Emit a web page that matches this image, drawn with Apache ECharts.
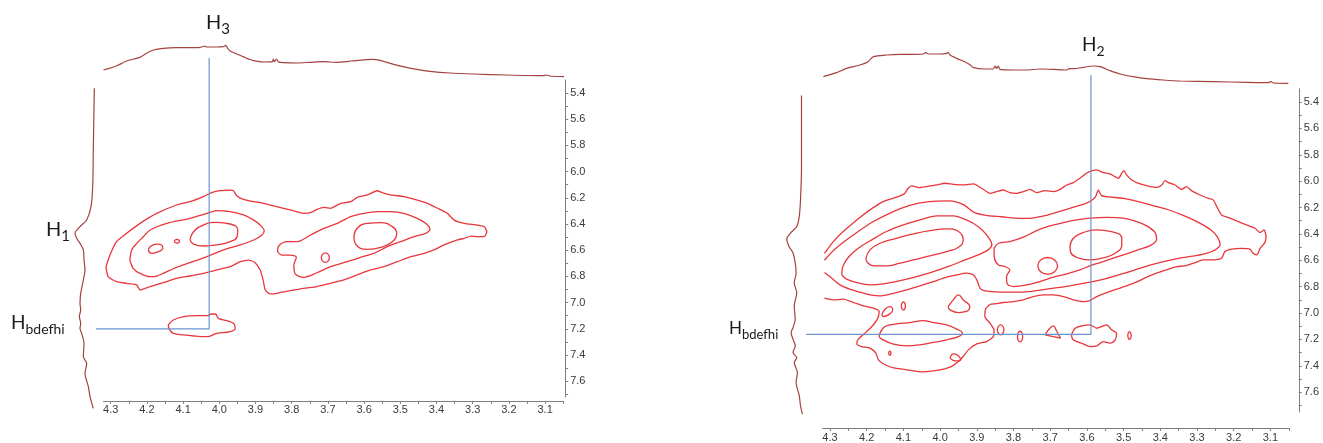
<!DOCTYPE html>
<html>
<head>
<meta charset="utf-8">
<script src="https://cdn.jsdelivr.net/npm/echarts/dist/echarts.min.js"></script>
<style>
  html, body { margin: 0; padding: 0; background: #fff; }
  #chart { width: 1323px; height: 443px; }
</style>
</head>
<body>
<div id="chart"></div>
<script>
// ---------- spectra data (chemical shifts in ppm, intensities in arbitrary units) ----------

// Left spectrum: F2 projection [ppm, intensity]
const leftTopTrace = [[4.320,3.0],[4.284,4.2],[4.256,5.7],[4.219,6.8],[4.201,8.0],[4.182,9.0],[4.155,9.5],[4.118,9.7],[4.081,9.7],[4.053,9.8],[4.040,10.2],[4.035,9.9],[4.007,9.9],[3.989,10.0],[3.982,10.4],[3.978,9.7],[3.971,8.8],[3.952,7.8],[3.934,7.0],[3.924,6.5],[3.917,6.2],[3.906,5.8],[3.878,5.4],[3.853,5.5],[3.851,6.3],[3.848,5.5],[3.842,6.3],[3.837,5.4],[3.823,5.2],[3.786,5.1],[3.749,5.3],[3.713,5.5],[3.676,5.3],[3.648,5.5],[3.639,5.7],[3.621,5.8],[3.593,6.1],[3.575,6.2],[3.556,5.9],[3.528,5.0],[3.492,4.0],[3.455,3.2],[3.418,2.6],[3.363,2.1],[3.298,1.8],[3.206,1.5],[3.105,1.3],[3.096,1.5],[3.087,1.2],[3.045,1.0]];
// Left spectrum: F1 projection [intensity, ppm]
const leftSideTrace = [[1.7,5.364],[2.0,5.810],[2.2,6.115],[2.7,6.268],[4.0,6.369],[6.0,6.420],[7.5,6.471],[7.0,6.509],[6.0,6.548],[5.0,6.598],[4.8,6.675],[4.5,6.751],[5.0,6.828],[5.8,6.929],[6.0,7.006],[5.8,7.056],[6.2,7.107],[5.8,7.158],[6.0,7.196],[5.5,7.235],[4.8,7.311],[5.0,7.413],[4.0,7.464],[4.5,7.540],[3.5,7.642],[3.0,7.718],[2.0,7.807]];

// Left spectrum: contour lines [F2 ppm, F1 ppm]
const leftOuter = [[4.313,6.726],[4.302,6.637],[4.284,6.535],[4.256,6.471],[4.219,6.395],[4.173,6.319],[4.118,6.255],[4.081,6.230],[4.044,6.191],[4.021,6.161],[3.998,6.146],[3.970,6.141],[3.961,6.146],[3.951,6.186],[3.933,6.212],[3.905,6.230],[3.877,6.242],[3.841,6.268],[3.804,6.293],[3.767,6.319],[3.748,6.314],[3.730,6.288],[3.711,6.273],[3.693,6.280],[3.665,6.242],[3.637,6.230],[3.619,6.196],[3.591,6.178],[3.564,6.146],[3.550,6.161],[3.527,6.178],[3.490,6.191],[3.453,6.217],[3.425,6.242],[3.397,6.280],[3.370,6.319],[3.351,6.370],[3.323,6.395],[3.287,6.408],[3.268,6.421],[3.261,6.459],[3.268,6.497],[3.287,6.497],[3.305,6.492],[3.323,6.509],[3.342,6.522],[3.379,6.560],[3.407,6.598],[3.434,6.624],[3.471,6.649],[3.508,6.688],[3.545,6.726],[3.582,6.751],[3.619,6.789],[3.656,6.827],[3.693,6.853],[3.730,6.878],[3.767,6.891],[3.804,6.909],[3.841,6.929],[3.859,6.934],[3.873,6.904],[3.879,6.827],[3.887,6.751],[3.901,6.695],[3.919,6.675],[3.942,6.688],[3.970,6.726],[4.007,6.751],[4.044,6.777],[4.081,6.797],[4.118,6.815],[4.155,6.848],[4.191,6.878],[4.219,6.904],[4.228,6.866],[4.256,6.853],[4.284,6.840],[4.307,6.802]];
const leftMidA = [[4.247,6.675],[4.242,6.598],[4.228,6.548],[4.210,6.497],[4.191,6.446],[4.145,6.395],[4.081,6.357],[4.034,6.319],[4.007,6.298],[3.970,6.306],[3.933,6.331],[3.905,6.370],[3.887,6.408],[3.876,6.451],[3.882,6.484],[3.905,6.522],[3.942,6.560],[3.988,6.598],[4.034,6.649],[4.081,6.695],[4.118,6.731],[4.155,6.777],[4.173,6.797],[4.191,6.802],[4.219,6.777],[4.238,6.738]];
const leftMidB = [[3.839,6.611],[3.836,6.568],[3.813,6.535],[3.785,6.535],[3.748,6.484],[3.711,6.433],[3.674,6.395],[3.637,6.344],[3.600,6.319],[3.564,6.306],[3.527,6.306],[3.490,6.319],[3.453,6.357],[3.430,6.395],[3.418,6.441],[3.430,6.471],[3.462,6.497],[3.499,6.535],[3.536,6.573],[3.573,6.624],[3.610,6.654],[3.647,6.688],[3.693,6.726],[3.730,6.772],[3.767,6.807],[3.790,6.782],[3.794,6.713],[3.787,6.654],[3.804,6.637],[3.827,6.637]];
const leftInnerA = [[4.081,6.522],[4.071,6.459],[4.044,6.408],[4.007,6.387],[3.970,6.400],[3.949,6.446],[3.951,6.497],[3.970,6.535],[4.007,6.560],[4.044,6.568],[4.071,6.553]];
const leftInnerB = [[3.628,6.497],[3.619,6.433],[3.591,6.395],[3.554,6.390],[3.522,6.420],[3.510,6.471],[3.522,6.535],[3.554,6.578],[3.591,6.593],[3.619,6.568]];
const leftSpotA = [[4.196,6.598],[4.191,6.573],[4.173,6.553],[4.159,6.560],[4.156,6.586],[4.168,6.611],[4.187,6.624]];
const leftSpotB = [[4.124,6.532],[4.122,6.522],[4.117,6.517],[4.112,6.522],[4.110,6.532],[4.112,6.542],[4.117,6.547],[4.122,6.542]];
const leftSpotC = [[3.718,6.657],[3.715,6.632],[3.707,6.621],[3.699,6.632],[3.696,6.657],[3.699,6.682],[3.707,6.693],[3.715,6.682]];
const leftLow = [[4.141,7.171],[4.127,7.133],[4.099,7.107],[4.062,7.100],[4.034,7.100],[4.021,7.087],[4.011,7.087],[4.002,7.120],[3.979,7.138],[3.961,7.158],[3.956,7.196],[3.970,7.222],[4.007,7.235],[4.034,7.260],[4.071,7.255],[4.099,7.247],[4.127,7.235],[4.138,7.204]];
// H3 / Hbdefhi cross-peak guide
const leftCross = [[4.341,7.20],[4.028,7.20],[4.028,5.133]];

// Right spectrum: F2 projection [ppm, intensity]
const rightTopTrace = [[4.318,10.0],[4.282,11.2],[4.255,12.5],[4.218,13.5],[4.196,14.5],[4.182,16.0],[4.146,16.5],[4.109,16.7],[4.073,16.7],[4.046,16.8],[4.039,17.2],[4.032,16.8],[4.000,16.8],[3.982,17.0],[3.978,17.3],[3.973,16.5],[3.955,15.5],[3.928,14.2],[3.919,13.6],[3.910,12.8],[3.882,12.3],[3.855,12.3],[3.850,13.2],[3.846,12.5],[3.841,13.2],[3.837,12.2],[3.800,12.0],[3.764,12.0],[3.728,12.3],[3.691,12.2],[3.655,12.0],[3.648,12.4],[3.637,12.4],[3.610,12.8],[3.582,13.2],[3.564,13.0],[3.537,11.8],[3.510,10.8],[3.474,10.0],[3.437,9.4],[3.392,9.0],[3.346,8.7],[3.255,8.5],[3.165,8.3],[3.106,8.2],[3.099,8.5],[3.092,8.1],[3.051,8.0]];
// Right spectrum: F1 projection [intensity, ppm]
const rightSideTrace = [[0.6,5.350],[0.6,5.890],[1.0,6.142],[1.5,6.267],[2.5,6.343],[5.0,6.393],[6.5,6.438],[5.6,6.494],[4.0,6.544],[3.1,6.620],[2.75,6.695],[3.5,6.770],[2.5,6.846],[3.5,6.946],[3.1,7.047],[4.0,7.110],[4.75,7.148],[4.0,7.198],[3.1,7.248],[4.0,7.298],[2.5,7.336],[3.5,7.374],[2.25,7.449],[2.75,7.525],[1.5,7.625],[1.0,7.701],[0.25,7.764]];

// Right spectrum: contour lines [F2 ppm, F1 ppm]
// lowest level: open at the 4.32 ppm edge, wraps both cross peaks and the 7.2 ppm region
const rightLevel0 = [[4.315,6.547],[4.291,6.458],[4.264,6.382],[4.227,6.294],[4.191,6.218],[4.164,6.168],[4.137,6.137],[4.109,6.112],[4.096,6.092],[4.087,6.054],[4.077,6.036],[4.059,6.049],[4.037,6.041],[4.009,6.029],[3.987,6.016],[3.964,6.024],[3.937,6.029],[3.909,6.021],[3.887,6.054],[3.864,6.092],[3.846,6.079],[3.828,6.067],[3.810,6.087],[3.791,6.092],[3.773,6.079],[3.755,6.062],[3.737,6.087],[3.714,6.072],[3.691,6.079],[3.673,6.062],[3.655,6.029],[3.637,6.011],[3.619,5.978],[3.601,5.940],[3.587,5.923],[3.573,5.915],[3.555,5.935],[3.537,5.945],[3.514,5.978],[3.505,5.940],[3.499,5.920],[3.492,5.953],[3.478,5.991],[3.455,6.021],[3.428,6.041],[3.410,6.047],[3.396,6.029],[3.387,5.996],[3.378,6.011],[3.360,6.029],[3.342,6.062],[3.328,6.041],[3.315,6.072],[3.292,6.105],[3.269,6.130],[3.256,6.142],[3.246,6.193],[3.233,6.256],[3.210,6.281],[3.187,6.307],[3.165,6.332],[3.142,6.357],[3.128,6.390],[3.117,6.370],[3.112,6.420],[3.115,6.466],[3.128,6.509],[3.137,6.559],[3.147,6.547],[3.156,6.516],[3.178,6.509],[3.206,6.516],[3.224,6.534],[3.233,6.584],[3.256,6.597],[3.283,6.597],[3.305,6.617],[3.333,6.642],[3.355,6.648],[3.383,6.673],[3.410,6.698],[3.437,6.728],[3.464,6.764],[3.492,6.794],[3.519,6.819],[3.546,6.845],[3.573,6.875],[3.592,6.905],[3.610,6.913],[3.637,6.900],[3.664,6.875],[3.691,6.862],[3.719,6.862],[3.746,6.875],[3.773,6.900],[3.800,6.913],[3.828,6.920],[3.850,6.930],[3.864,6.935],[3.876,6.970],[3.878,7.026],[3.864,7.077],[3.853,7.127],[3.855,7.178],[3.873,7.216],[3.900,7.233],[3.923,7.279],[3.937,7.329],[3.950,7.367],[3.973,7.410],[4.009,7.435],[4.046,7.446],[4.091,7.430],[4.123,7.418],[4.150,7.392],[4.168,7.355],[4.175,7.304],[4.191,7.266],[4.214,7.254],[4.227,7.233],[4.223,7.198],[4.205,7.153],[4.186,7.102],[4.171,7.046],[4.166,6.988],[4.182,6.963],[4.209,6.946],[4.236,6.920],[4.264,6.895],[4.291,6.900],[4.315,6.887]];
// second level: open at the edge, encloses both cross peaks
const rightLevel1 = [[4.315,6.600],[4.292,6.530],[4.262,6.460],[4.225,6.385],[4.184,6.310],[4.135,6.240],[4.085,6.185],[4.030,6.155],[3.975,6.150],[3.935,6.180],[3.909,6.235],[3.870,6.262],[3.832,6.270],[3.795,6.280],[3.755,6.282],[3.720,6.265],[3.689,6.242],[3.645,6.205],[3.601,6.167],[3.582,6.135],[3.575,6.110],[3.569,6.067],[3.560,6.110],[3.540,6.120],[3.500,6.130],[3.460,6.155],[3.420,6.185],[3.380,6.215],[3.336,6.262],[3.295,6.315],[3.262,6.370],[3.245,6.420],[3.237,6.480],[3.250,6.520],[3.275,6.548],[3.303,6.565],[3.350,6.585],[3.400,6.615],[3.450,6.655],[3.500,6.700],[3.550,6.740],[3.600,6.770],[3.650,6.795],[3.700,6.815],[3.750,6.835],[3.800,6.842],[3.850,6.840],[3.880,6.830],[3.891,6.812],[3.899,6.754],[3.909,6.711],[3.928,6.698],[3.955,6.711],[3.982,6.728],[4.018,6.761],[4.055,6.794],[4.091,6.824],[4.127,6.850],[4.164,6.870],[4.191,6.862],[4.218,6.842],[4.246,6.819],[4.273,6.786],[4.295,6.736],[4.315,6.693]];
const rightMidA = [[4.268,6.711],[4.265,6.648],[4.250,6.577],[4.223,6.509],[4.186,6.445],[4.146,6.382],[4.100,6.332],[4.055,6.294],[4.009,6.264],[3.964,6.264],[3.928,6.294],[3.896,6.345],[3.873,6.408],[3.859,6.483],[3.869,6.521],[3.896,6.559],[3.932,6.597],[3.973,6.642],[4.018,6.685],[4.064,6.723],[4.109,6.754],[4.155,6.779],[4.191,6.786],[4.227,6.769],[4.255,6.743]];
const rightMidB = [[3.853,6.509],[3.841,6.471],[3.810,6.458],[3.773,6.425],[3.737,6.375],[3.701,6.339],[3.664,6.314],[3.628,6.294],[3.592,6.281],[3.546,6.274],[3.501,6.281],[3.464,6.307],[3.437,6.339],[3.414,6.390],[3.410,6.440],[3.424,6.483],[3.455,6.516],[3.492,6.552],[3.528,6.584],[3.564,6.617],[3.592,6.642],[3.619,6.673],[3.655,6.703],[3.691,6.728],[3.728,6.761],[3.764,6.786],[3.800,6.799],[3.817,6.779],[3.819,6.723],[3.810,6.673],[3.823,6.648],[3.841,6.635],[3.852,6.584]];
const rightInnerA = [[4.202,6.584],[4.191,6.521],[4.164,6.471],[4.118,6.433],[4.073,6.400],[4.028,6.375],[3.982,6.362],[3.950,6.382],[3.937,6.445],[3.950,6.501],[3.982,6.534],[4.028,6.567],[4.073,6.597],[4.109,6.622],[4.146,6.642],[4.177,6.642],[4.198,6.617]];
const rightInnerB = [[3.646,6.496],[3.637,6.433],[3.610,6.390],[3.573,6.370],[3.533,6.382],[3.505,6.433],[3.505,6.483],[3.523,6.546],[3.560,6.584],[3.596,6.597],[3.628,6.577],[3.644,6.541]];
const rightSpotA = [[3.734,6.642],[3.726,6.598],[3.707,6.579],[3.688,6.598],[3.680,6.642],[3.688,6.686],[3.707,6.705],[3.726,6.686]];
const rightLowInner = [[4.164,7.153],[4.150,7.102],[4.118,7.082],[4.082,7.072],[4.046,7.057],[4.018,7.072],[3.982,7.089],[3.950,7.127],[3.939,7.153],[3.950,7.178],[3.982,7.203],[4.018,7.223],[4.055,7.241],[4.091,7.249],[4.127,7.236],[4.155,7.203],[4.166,7.178]];
const rightSpotB = [[4.159,7.014],[4.150,6.971],[4.137,6.951],[4.129,6.976],[4.141,7.014],[4.155,7.026]];
const rightSpotC = [[4.1055,6.946],[4.104,6.925],[4.100,6.916],[4.096,6.925],[4.0945,6.946],[4.096,6.967],[4.100,6.976],[4.104,6.967]];
const rightSpotD = [[3.978,6.951],[3.964,6.900],[3.950,6.862],[3.937,6.900],[3.919,6.951],[3.928,6.988],[3.950,6.996],[3.973,6.976]];
const rightSpotE = [[4.140,7.304],[4.139,7.293],[4.137,7.289],[4.135,7.293],[4.134,7.304],[4.135,7.315],[4.137,7.319],[4.139,7.315]];
const rightSpotF = [[3.973,7.342],[3.964,7.309],[3.950,7.324],[3.944,7.355],[3.959,7.362]];
const rightSpotG = [[3.844,7.127],[3.841,7.100],[3.835,7.089],[3.829,7.100],[3.826,7.127],[3.829,7.154],[3.835,7.165],[3.841,7.154]];
const rightSpotH = [[3.789,7.178],[3.787,7.150],[3.782,7.138],[3.777,7.150],[3.775,7.178],[3.777,7.206],[3.782,7.218],[3.787,7.206]];
const rightSpotI = [[3.714,7.165],[3.701,7.115],[3.691,7.097],[3.682,7.140],[3.672,7.190],[3.691,7.178]];
const rightSpotJ = [[3.642,7.165],[3.632,7.115],[3.614,7.097],[3.592,7.089],[3.573,7.115],[3.560,7.102],[3.546,7.089],[3.533,7.127],[3.519,7.153],[3.523,7.203],[3.537,7.228],[3.555,7.216],[3.573,7.249],[3.592,7.254],[3.610,7.233],[3.628,7.216],[3.639,7.198]];
const rightSpotK = [[3.4885,7.170],[3.487,7.149],[3.484,7.140],[3.481,7.149],[3.4795,7.170],[3.481,7.191],[3.484,7.200],[3.487,7.191]];
// H2 / Hbdefhi cross-peak guide
const rightCross = [[4.365,7.16],[3.589,7.16],[3.589,5.195]];

// axis ranges and tick steps (ppm)
const F2_MIN = 3.05, F2_MAX = 4.32, F2_STEP = 0.05;
const F1_MIN = 5.3, F1_STEP = 0.1;
// wider frame used for the guide lines, which run out to the projections
const GUIDE_F2_MAX = 4.40, GUIDE_F1_MIN = 5.0;

// ---------- layout ----------
// pixel anchors: position of 4.3 ppm (F2) and 5.4 ppm (F1), pixels per ppm
const panels = [
  { x0: 110.7, xs: 362, y0: 93, ys: 131, f1Max: 7.72, xOff: 4, yOff: 2,
    top: { top: 0, height: 80 }, side: { left: 66.7, width: 33.3 },
    topTrace: leftTopTrace, sideTrace: leftSideTrace, cross: leftCross,
    contours: [
      [leftOuter, true, 0.2], [leftMidA, true, 0.3], [leftMidB, true, 0.3],
      [leftInnerA, true, 0.5], [leftInnerB, true, 0.5], [leftSpotA, true, 0.5],
      [leftSpotB, true, 0.5], [leftSpotC, true, 0.5], [leftLow, true, 0.4]
    ] },
  { x0: 830, xs: 367, y0: 102, ys: 132, f1Max: 7.75, xOff: 16, yOff: 10,
    top: { top: 30, height: 80 }, side: { left: 778, width: 25 },
    topTrace: rightTopTrace, sideTrace: rightSideTrace, cross: rightCross,
    contours: [
      [rightLevel0, false, 0.2], [rightLevel1, false, 0.25], [rightMidA, true, 0.3], [rightMidB, true, 0.3],
      [rightInnerA, true, 0.5], [rightInnerB, true, 0.5], [rightSpotA, true, 0.5],
      [rightLowInner, true, 0.4],
      [rightSpotB, true, 0.5], [rightSpotC, true, 0.5], [rightSpotD, true, 0.5],
      [rightSpotE, true, 0.5], [rightSpotF, true, 0.5], [rightSpotG, true, 0.5],
      [rightSpotH, true, 0.5], [rightSpotI, true, 0.4], [rightSpotJ, true, 0.3],
      [rightSpotK, true, 0.5]
    ] }
];

const CONTOUR = '#e8363a', TRACE = '#a3423e', GUIDE = '#6a97cf', AXIS = '#808080', TEXT = '#3a3a3a';
const tickFont = 'Liberation Sans, Arial, sans-serif';

function xPix(p, v) { return p.x0 + (4.3 - v) * p.xs; }
function yPix(p, v) { return p.y0 + (v - 5.4) * p.ys; }

const grid = [], xAxis = [], yAxis = [], series = [];

panels.forEach((p) => {
  const left = xPix(p, F2_MAX), right = xPix(p, F2_MIN);
  const top = yPix(p, F1_MIN), bottom = yPix(p, p.f1Max);
  const g0 = grid.length;

  // main 2D grid
  grid.push({ left, top, width: right - left, height: bottom - top });
  xAxis.push({
    gridIndex: g0, type: 'value', inverse: true, min: F2_MIN, max: F2_MAX, interval: F2_STEP,
    position: 'bottom', offset: p.xOff,
    axisLine: { show: true, onZero: false, lineStyle: { color: AXIS, width: 1 } },
    axisTick: { show: true, length: 3, lineStyle: { color: AXIS } },
    splitLine: { show: false },
    axisLabel: {
      color: TEXT, fontSize: 11, fontFamily: tickFont, margin: 4,
      showMinLabel: true, showMaxLabel: false,
      formatter: (v) => {
        const h = Math.round(v * 100);
        if (Math.abs(v * 100 - h) > 1e-6) return '';
        return (h % 10 === 0 && h <= 430) ? (h / 100).toFixed(1) : '';
      }
    }
  });
  yAxis.push({
    gridIndex: g0, type: 'value', inverse: true, min: F1_MIN, max: p.f1Max, interval: F1_STEP,
    position: 'right', offset: p.yOff,
    axisLine: { show: true, onZero: false, lineStyle: { color: AXIS, width: 1 } },
    axisTick: { show: true, length: 3, lineStyle: { color: AXIS } },
    splitLine: { show: false },
    axisLabel: {
      color: TEXT, fontSize: 11, fontFamily: tickFont, margin: 5,
      showMinLabel: false, showMaxLabel: false,
      formatter: (v) => {
        const t = Math.round(v * 10);
        if (Math.abs(v * 10 - t) > 1e-6) return '';
        return (t % 2 === 0) ? (t / 10).toFixed(1) : '';
      }
    }
  });

  // F2 projection above
  grid.push({ left, top: p.top.top, width: right - left, height: p.top.height });
  xAxis.push({ gridIndex: g0 + 1, type: 'value', inverse: true, min: F2_MIN, max: F2_MAX, show: false });
  yAxis.push({ gridIndex: g0 + 1, type: 'value', min: 0, max: 24, show: false });

  // F1 projection on the left
  grid.push({ left: p.side.left, width: p.side.width, top, height: bottom - top });
  xAxis.push({ gridIndex: g0 + 2, type: 'value', inverse: true, min: 0, max: 10, show: false });
  yAxis.push({ gridIndex: g0 + 2, type: 'value', inverse: true, min: F1_MIN, max: p.f1Max, show: false });

  // same ppm scales as the main grid, extended out to the projections
  const gl = xPix(p, GUIDE_F2_MAX), gt = yPix(p, GUIDE_F1_MIN);
  grid.push({ left: gl, top: gt, width: right - gl, height: bottom - gt });
  xAxis.push({ gridIndex: g0 + 3, type: 'value', inverse: true, min: F2_MIN, max: GUIDE_F2_MAX, show: false });
  yAxis.push({ gridIndex: g0 + 3, type: 'value', inverse: true, min: GUIDE_F1_MIN, max: p.f1Max, show: false });

  // contours
  p.contours.forEach(([pts, closed, smooth]) => {
    series.push({
      type: 'line', xAxisIndex: g0, yAxisIndex: g0,
      data: closed ? pts.concat([pts[0]]) : pts,
      showSymbol: false, symbol: 'none', smooth, clip: false, silent: true,
      lineStyle: { color: CONTOUR, width: 1.3 }
    });
  });

  // guide lines from the projections to the cross peak
  series.push({
    type: 'line', xAxisIndex: g0 + 3, yAxisIndex: g0 + 3, data: p.cross,
    showSymbol: false, symbol: 'none', clip: false, silent: true, z: 3,
    lineStyle: { color: GUIDE, width: 1.2 }
  });

  // projections
  series.push({
    type: 'line', xAxisIndex: g0 + 1, yAxisIndex: g0 + 1, data: p.topTrace,
    showSymbol: false, symbol: 'none', clip: false, silent: true, smooth: 0.2,
    lineStyle: { color: TRACE, width: 1.2 }
  });
  series.push({
    type: 'line', xAxisIndex: g0 + 2, yAxisIndex: g0 + 2, data: p.sideTrace,
    showSymbol: false, symbol: 'none', clip: false, silent: true, smooth: 0.3,
    lineStyle: { color: TRACE, width: 1.2 }
  });
});

// proton labels with subscripts
function protonLabel(x, y, sub, size, subSize) {
  const lh = size + 8;
  return {
    type: 'text', x, y, silent: true, z: 10,
    style: {
      text: '{m|H}{s|' + sub + '}',
      rich: {
        m: { fontSize: size, fontFamily: 'Lato, Open Sans, sans-serif', fill: '#1a1a1a', lineHeight: lh, verticalAlign: 'middle' },
        s: { fontSize: subSize, fontFamily: 'Lato, Open Sans, sans-serif', fill: '#1a1a1a', lineHeight: lh, verticalAlign: 'bottom' }
      }
    }
  };
}

const chart = echarts.init(document.getElementById('chart'), null, { renderer: 'canvas' });
chart.setOption({
  animation: false,
  backgroundColor: '#ffffff',
  grid, xAxis, yAxis, series,
  graphic: [
    protonLabel(206, 9, '3', 20, 15),
    protonLabel(46, 216, '1', 20, 15),
    protonLabel(11, 309, 'bdefhi', 19, 14),
    protonLabel(1082, 31, '2', 19, 14),
    protonLabel(729, 316, 'bdefhi', 17, 13)
  ]
});
</script>
</body>
</html>
